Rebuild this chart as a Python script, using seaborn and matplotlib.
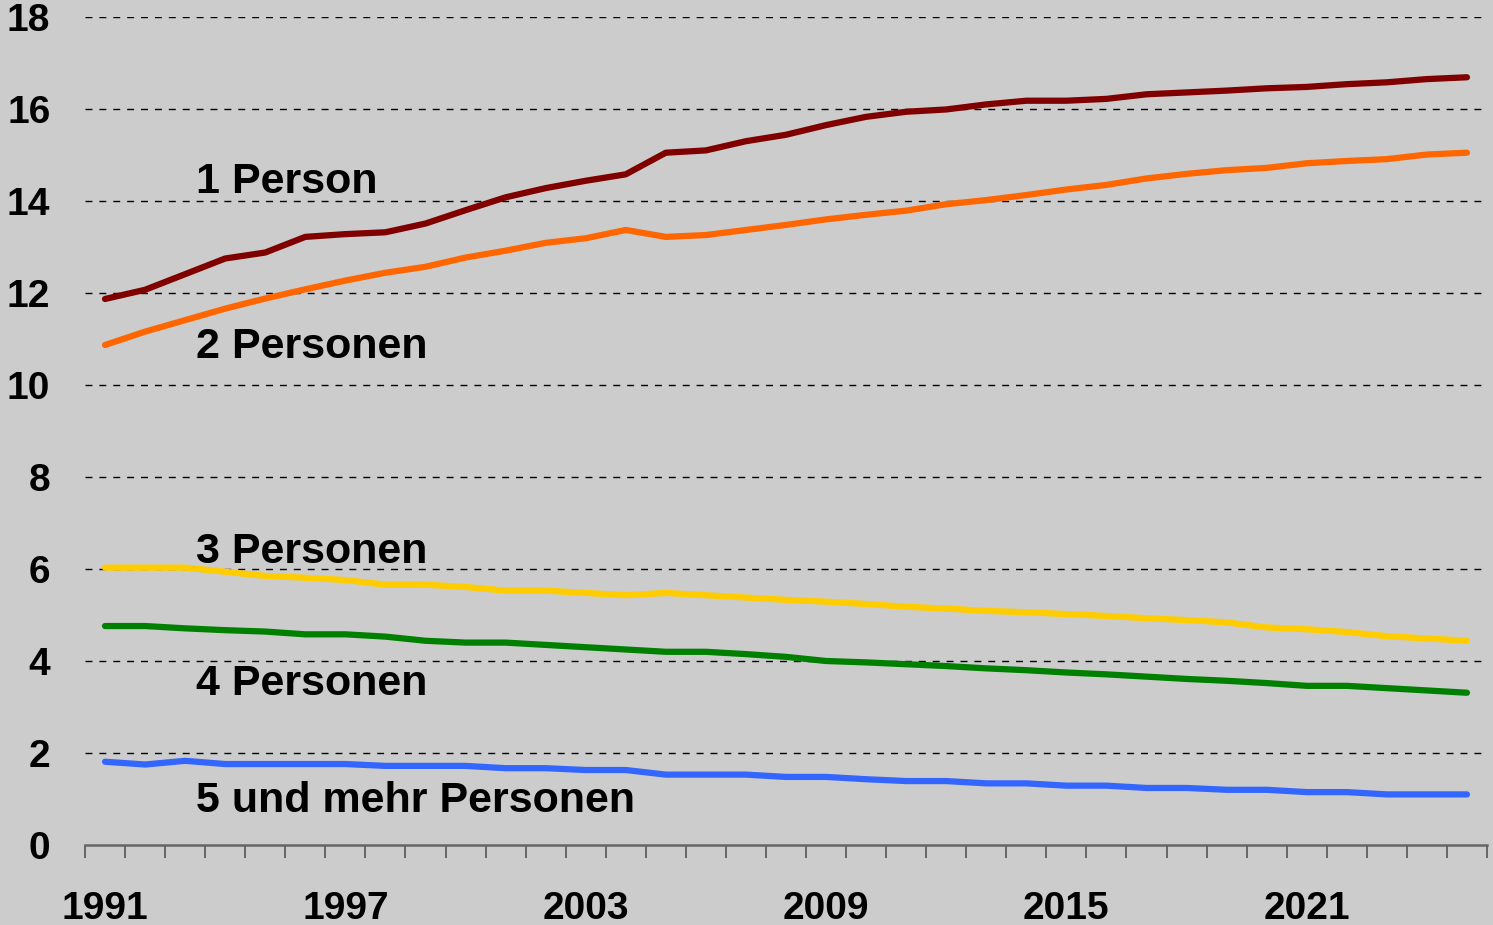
import numpy as np
import pandas as pd
import matplotlib
matplotlib.use("Agg")
import matplotlib.pyplot as plt
import seaborn as sns

years = list(range(1991, 2026))

p1 = [11.87, 12.07, 12.41, 12.75, 12.88, 13.22, 13.28, 13.32, 13.51, 13.80,
      14.08, 14.28, 14.44, 14.58, 15.05, 15.10, 15.30, 15.44, 15.65, 15.83,
      15.94, 15.99, 16.10, 16.18, 16.18, 16.22, 16.32, 16.36, 16.40, 16.45,
      16.48, 16.54, 16.58, 16.65, 16.69]
p2 = [10.87, 11.16, 11.41, 11.66, 11.88, 12.08, 12.27, 12.44, 12.57, 12.77,
      12.92, 13.09, 13.19, 13.37, 13.22, 13.26, 13.37, 13.48, 13.60, 13.70,
      13.79, 13.93, 14.02, 14.13, 14.25, 14.35, 14.49, 14.59, 14.67, 14.72,
      14.82, 14.87, 14.91, 15.01, 15.05]
p3 = [6.03, 6.03, 6.03, 5.94, 5.85, 5.81, 5.76, 5.66, 5.66, 5.61,
      5.53, 5.53, 5.48, 5.43, 5.48, 5.43, 5.38, 5.33, 5.29, 5.24,
      5.18, 5.14, 5.09, 5.06, 5.02, 4.98, 4.93, 4.89, 4.84, 4.73,
      4.69, 4.63, 4.54, 4.49, 4.44]
p4 = [4.76, 4.76, 4.71, 4.67, 4.64, 4.58, 4.58, 4.53, 4.44, 4.40,
      4.40, 4.35, 4.30, 4.25, 4.20, 4.20, 4.15, 4.09, 4.00, 3.97,
      3.93, 3.89, 3.84, 3.80, 3.75, 3.71, 3.66, 3.61, 3.57, 3.52,
      3.46, 3.46, 3.41, 3.36, 3.31]
p5 = [1.81, 1.75, 1.83, 1.76, 1.76, 1.76, 1.76, 1.72, 1.72, 1.72,
      1.67, 1.67, 1.63, 1.63, 1.53, 1.53, 1.53, 1.48, 1.48, 1.43,
      1.39, 1.39, 1.34, 1.34, 1.29, 1.29, 1.24, 1.24, 1.20, 1.20,
      1.15, 1.15, 1.10, 1.10, 1.10]

series_names = ["1 Person", "2 Personen", "3 Personen", "4 Personen", "5 und mehr Personen"]
series_values = [p1, p2, p3, p4, p5]
colors = ["#800000", "#ff6600", "#ffcc00", "#008000", "#3366ff"]
label_pos = [(1993.27, 14.17), (1993.27, 10.59), (1993.27, 6.13), (1993.27, 3.26), (1993.27, 0.72)]
xtick_labels = [1991, 1997, 2003, 2009, 2015, 2021]
ytick_values = [0, 2, 4, 6, 8, 10, 12, 14, 16, 18]

df = pd.concat([pd.DataFrame({"Jahr": years, "Wert": v, "Gruppe": n})
                for n, v in zip(series_names, series_values)], ignore_index=True)

sns.set_theme(style="white")
plt.rcParams['font.family'] = ['Liberation Sans', 'DejaVu Sans']
bg = "#cccccc"

fig = plt.figure(figsize=(14.93, 9.25), dpi=100, facecolor=bg)
ax = fig.add_axes([85/1493, 80/925, (1487-85)/1493, (845-17)/925])
ax.set_facecolor(bg)

sns.lineplot(data=df, x="Jahr", y="Wert", hue="Gruppe", hue_order=series_names,
             palette=colors, linewidth=4.5, legend=False, ax=ax,
             solid_capstyle="round", zorder=3)

ax.set_xlim(1990.5, 2025.5)
ax.set_ylim(0, 18)
ax.set_xlabel("")
ax.set_ylabel("")

for y in ytick_values[1:]:
    ax.axhline(y, color="black", lw=1.0, ls=(0, (5, 5)), zorder=1)

ax.set_yticks(ytick_values)
ax.set_yticklabels([str(v) for v in ytick_values])
ax.tick_params(axis="y", left=False, length=0, pad=25, labelsize=28, labelcolor="black")
for t in ax.get_yticklabels():
    t.set_fontweight("bold")
    t.set_horizontalalignment("right")

ax.set_xticks(xtick_labels)
ax.set_xticklabels([str(v) for v in xtick_labels])
ax.set_xticks(np.arange(1990.5, 2026, 1.0), minor=True)
ax.tick_params(axis="x", which="major", bottom=True, length=0, pad=33, labelsize=28, labelcolor="black")
ax.tick_params(axis="x", which="minor", bottom=True, length=9, width=1.2, color="#555555", direction="out")
for t in ax.get_xticklabels():
    t.set_fontweight("bold")

for s in ["top", "right", "left"]:
    ax.spines[s].set_visible(False)
ax.spines["bottom"].set_color("#666666")
ax.spines["bottom"].set_linewidth(1.8)

for name, (x, y) in zip(series_names, label_pos):
    ax.text(x, y, name, fontsize=31, fontweight="bold", color="black",
            ha="left", va="baseline", zorder=4)

fig.savefig("out.png", dpi=100, facecolor=bg)
